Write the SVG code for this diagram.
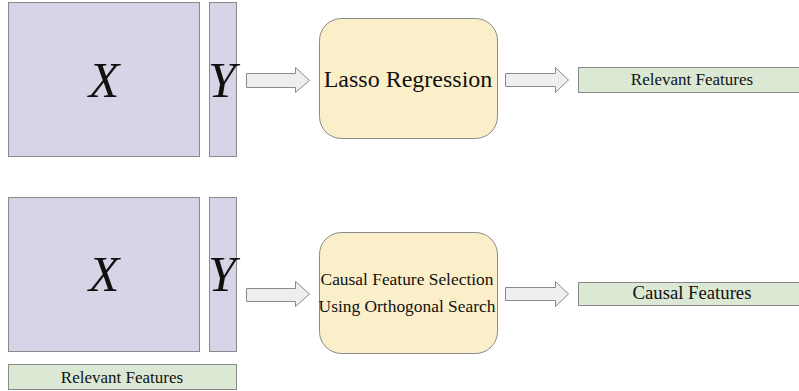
<svg xmlns="http://www.w3.org/2000/svg" width="799" height="391" viewBox="0 0 799 391">
<style>
.mat{fill:#d9d3e8;stroke:#8a8a8a;stroke-width:1}
.proc{fill:#fbefc9;stroke:#8a8a8a;stroke-width:1}
.feat{fill:#dbe8d4;stroke:#8a8a8a;stroke-width:1}
.arr{fill:#eeeeee;stroke:#8a8a8a;stroke-width:1}
text{font-family:"Liberation Serif","Times New Roman",serif;fill:#111;text-anchor:middle}
.var{font-style:italic;font-size:50px}
</style>
<rect width="799" height="391" fill="#ffffff"/>
<g id="X1"><rect class="mat" x="8.5" y="2.5" width="191" height="154"/><text class="var" x="104" y="97">X</text></g>
<g id="Y1"><rect class="mat" x="209.5" y="2.5" width="27" height="154"/><text class="var" x="222" y="97">Y</text></g>
<g id="lasso"><rect class="proc" x="319.5" y="18.5" width="178" height="120" rx="22"/><text x="408" y="87" font-size="24">Lasso Regression</text></g>
<g id="rel1"><rect class="feat" x="578.5" y="67.5" width="222" height="25"/><text x="692" y="85" font-size="17">Relevant Features</text></g>
<g id="X2"><rect class="mat" x="8.5" y="197.5" width="191" height="154"/><text class="var" x="104" y="291">X</text></g>
<g id="Y2"><rect class="mat" x="209.5" y="197.5" width="27" height="154"/><text class="var" x="222" y="291">Y</text></g>
<g id="rel2"><rect class="feat" x="8.5" y="364.5" width="228" height="25"/><text x="122" y="383" font-size="17">Relevant Features</text></g>
<g id="cfs"><rect class="proc" x="319.5" y="232.5" width="178" height="121" rx="22"/><text x="407" y="285" font-size="17.4">Causal Feature Selection</text><text x="407" y="312" font-size="17.4">Using Orthogonal Search</text></g>
<g id="causal"><rect class="feat" x="578.5" y="282.5" width="222" height="23"/><text x="692" y="299" font-size="18.7">Causal Features</text></g>
<g id="connectors">
<path class="arr" d="M246.5 73.5 H295.5 V67.5 L309.5 80.5 L295.5 92.5 V87.5 H246.5 Z"/>
<path class="arr" d="M505.5 73.5 H555.5 V67.5 L568.5 80 L555.5 92.5 V86.5 H505.5 Z"/>
<path class="arr" d="M246.5 288.5 H295.5 V281.5 L309.5 294 L295.5 306.5 V301.5 H246.5 Z"/>
<path class="arr" d="M505.5 287.5 H555.5 V281.5 L568.5 294 L555.5 306.5 V300.5 H505.5 Z"/>
</g>
</svg>
